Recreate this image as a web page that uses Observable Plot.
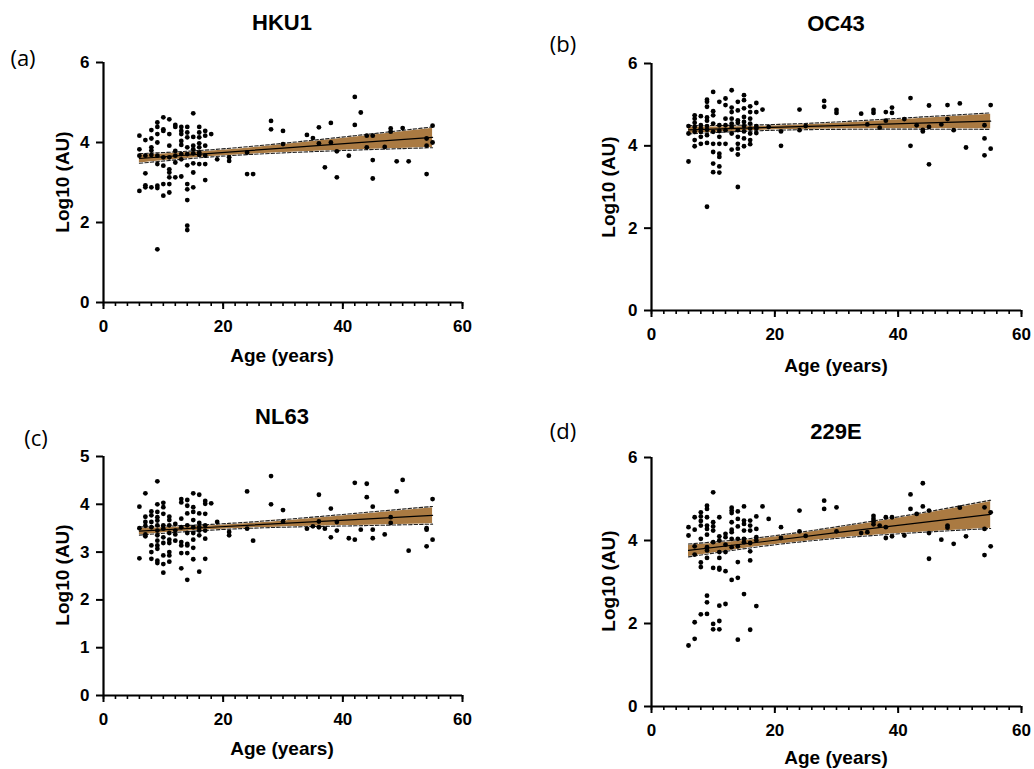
<!DOCTYPE html>
<html><head><meta charset="utf-8">
<script src="https://cdn.jsdelivr.net/npm/d3@7"></script>
<script src="https://cdn.jsdelivr.net/npm/@observablehq/plot@0.6"></script>
<style>
body{margin:0;background:#fff;}
#root{position:relative;width:1034px;height:769px;overflow:hidden;font-family:"Liberation Sans",Arial,sans-serif;background:#fff;}
.t{position:absolute;white-space:nowrap;transform:translate(-50%,-50%);color:#000;line-height:1;}
.title{font-weight:bold;font-size:22px;}
.plab{font-family:"Open Sans","Liberation Sans",sans-serif;font-size:22px;}
.xl{font-weight:bold;font-size:19px;}
.yl{font-weight:bold;font-size:19px;transform:translate(-50%,-50%) rotate(-90deg);}
.panel{position:absolute;}
.panel svg text{font-family:"Liberation Sans",Arial,sans-serif !important;font-weight:bold !important;font-size:17px !important;fill:#000;}
</style></head><body><div id="root"></div>
<script>
// ---- data: [age (years), log10 (AU)] ----
const hku1 = [[6,4.17],[6,3.83],[6,3.67],[6,2.79],
[7,4.06],[7,3.67],[7,3.23],[7,2.93],[7,2.88],
[8,4.31],[8,4.1],[8,3.88],[8,3.8],[8,3.69],[8,2.88],
[9,4.5],[9,4.39],[9,4.21],[9,4.0],[9,3.67],[9,3.46],[9,2.92],[9,2.86],[9,1.33],
[10,4.63],[10,4.33],[10,4.29],[10,3.63],[10,3.42],[10,2.96],[10,2.67],
[11,4.58],[11,4.21],[11,3.92],[11,3.63],[11,3.33],[11,3.25],[11,3.13],[11,2.96],[11,2.75],
[12,4.44],[12,4.39],[12,3.79],[12,3.67],[12,3.5],[12,3.13],
[13,4.39],[13,4.29],[13,4.21],[13,4.04],[13,3.94],[13,3.71],[13,3.58],[13,3.15],
[14,4.39],[14,4.25],[14,4.13],[14,3.88],[14,3.71],[14,3.43],[14,2.96],[14,2.83],[14,2.56],[14,1.92],[14,1.81],
[15,4.73],[15,4.14],[15,3.92],[15,3.83],[15,3.73],[15,3.48],[15,3.25],[15,2.88],
[16,4.39],[16,4.25],[16,4.13],[16,3.98],[16,3.88],[16,3.75],[16,3.69],[16,3.46],
[17,4.29],[17,4.17],[17,3.92],[17,3.67],[17,3.46],[17,3.06],
[18,4.21],[19,3.58],[21,3.63],[21,3.54],[24,3.75],[24,3.21],[25,3.21],[28,4.54],[28,4.33],[30,4.29],[30,3.96],
[34,4.19],[35,4.11],[36,4.38],[36,3.98],[37,3.38],[38,4.49],[38,4.0],[39,3.78],[39,3.13],[41,3.67],[42,5.14],[42,4.44],
[43,4.75],[44,4.17],[44,3.88],[45,4.17],[45,3.56],[45,3.1],[47,3.89],[48,4.35],[48,4.27],[49,3.53],[50,4.36],[51,3.53],
[54,4.1],[54,3.92],[54,3.21],[55,4.42],[55,4.0]];

const oc43 = [[6,4.48],[6,4.3],[6,3.62],
[7,4.74],[7,4.66],[7,4.56],[7,4.46],[7,4.34],[7,4.14],[7,3.99],
[8,4.72],[8,4.5],[8,4.42],[8,4.34],[8,4.22],[8,4.05],
[9,5.12],[9,5.07],[9,4.95],[9,4.69],[9,4.61],[9,4.48],[9,4.39],[9,4.26],[9,4.07],[9,2.52],
[10,5.31],[10,4.84],[10,4.74],[10,4.54],[10,4.34],[10,4.05],[10,3.85],[10,3.57],[10,3.36],
[11,5.07],[11,4.5],[11,4.36],[11,4.22],[11,4.05],[11,3.81],[11,3.73],[11,3.5],[11,3.35],
[12,5.15],[12,4.99],[12,4.66],[12,4.5],[12,4.38],[12,4.05],
[13,5.35],[13,4.93],[13,4.82],[13,4.66],[13,4.54],[13,4.46],[13,4.3],[13,3.91],
[14,5.07],[14,4.86],[14,4.62],[14,4.56],[14,4.38],[14,4.22],[14,4.05],[14,3.93],[14,3.79],[14,3.0],
[15,5.23],[15,5.11],[15,4.91],[15,4.7],[15,4.58],[15,4.48],[15,4.35],[15,4.18],[15,3.99],
[16,4.96],[16,4.82],[16,4.66],[16,4.54],[16,4.42],[16,4.3],[16,4.14],[16,4.04],
[17,5.04],[17,4.82],[17,4.48],[17,4.42],[17,4.31],
[18,4.88],[19,4.46],[21,4.35],[21,4.0],[24,4.88],[24,4.38],[25,4.48],[28,5.09],[28,4.95],[30,4.87],[30,4.8],
[34,4.78],[35,4.52],[36,4.87],[36,4.8],[37,4.44],[38,4.82],[38,4.61],[39,4.93],[39,4.8],[41,4.65],[42,5.16],[42,4.0],
[43,4.5],[44,4.39],[44,4.35],[45,4.98],[45,4.46],[45,3.55],[47,4.52],[48,4.99],[48,4.65],[49,4.38],[50,5.03],[51,3.96],
[54,4.5],[54,4.18],[54,3.77],[55,4.99],[55,3.93]];

const nl63 = [[6,3.95],[6,3.5],[6,2.87],
[7,4.23],[7,3.74],[7,3.63],[7,3.55],[7,3.37],[7,3.33],
[8,3.85],[8,3.77],[8,3.63],[8,3.52],[8,3.14],[8,3.0],[8,2.86],
[9,4.48],[9,4.0],[9,3.84],[9,3.73],[9,3.66],[9,3.56],[9,3.45],[9,3.35],[9,3.24],[9,3.14],[9,3.07],[9,2.82],[9,2.77],
[10,4.03],[10,3.94],[10,3.8],[10,3.56],[10,3.49],[10,3.31],[10,3.19],[10,2.93],[10,2.75],[10,2.57],
[11,3.74],[11,3.67],[11,3.56],[11,3.4],[11,3.26],[11,3.19],[11,3.0],[11,2.93],[11,2.8],
[12,3.59],[12,3.45],[12,3.37],[12,3.24],
[13,4.11],[13,4.04],[13,3.7],[13,3.52],[13,3.21],[13,3.14],[13,2.98],[13,2.66],
[14,4.09],[14,3.97],[14,3.81],[14,3.56],[14,3.4],[14,3.17],[14,3.14],[14,2.98],[14,2.42],
[15,4.23],[15,3.94],[15,3.84],[15,3.67],[15,3.52],[15,3.4],[15,3.26],[15,3.09],[15,2.85],
[16,4.2],[16,3.81],[16,3.61],[16,3.52],[16,3.45],[16,3.35],[16,2.59],
[17,4.07],[17,4.01],[17,3.8],[17,3.56],[17,3.45],[17,3.28],[17,2.86],
[18,4.02],[19,3.63],[21,3.42],[21,3.35],[24,4.27],[24,3.49],[25,3.24],[28,4.59],[28,4.0],[30,3.88],[30,3.64],
[34,3.49],[35,3.54],[36,4.2],[36,3.64],[36,3.52],[37,3.49],[38,3.91],[38,3.31],[39,3.63],[39,3.45],[41,3.29],
[42,4.45],[42,3.26],[43,3.47],[44,4.43],[44,4.15],[45,3.95],[45,3.47],[45,3.29],[47,3.37],[48,3.73],[48,3.61],
[49,4.27],[50,4.51],[51,3.03],[54,3.5],[54,3.47],[54,3.12],[55,4.11],[55,3.26]];

const e229 = [[6,4.32],[6,4.12],[6,1.47],
[7,4.56],[7,4.26],[7,3.86],[7,3.66],[7,2.03],[7,1.63],
[8,4.68],[8,4.58],[8,4.47],[8,4.36],[8,4.04],[8,3.47],[8,3.36],[8,2.22],
[9,4.84],[9,4.76],[9,4.56],[9,4.36],[9,4.28],[9,4.14],[9,3.84],[9,3.76],[9,3.58],[9,2.67],[9,2.51],[9,2.23],
[10,5.16],[10,4.44],[10,4.34],[10,4.24],[10,3.96],[10,3.34],[10,1.99],[10,1.86],
[11,4.56],[11,4.1],[11,4.0],[11,3.72],[11,3.58],[11,3.34],[11,3.3],[11,2.43],[11,2.06],[11,1.86],
[12,4.16],[12,4.08],[12,3.9],[12,3.72],[12,3.26],[12,2.47],
[13,4.79],[13,4.72],[13,4.66],[13,4.44],[13,4.26],[13,4.2],[13,4.04],[13,3.84],[13,3.05],
[14,4.7],[14,4.52],[14,4.34],[14,4.04],[14,3.86],[14,3.48],[14,3.1],[14,1.61],
[15,4.82],[15,4.48],[15,4.4],[15,4.24],[15,4.04],[15,3.96],[15,2.71],
[16,4.48],[16,4.36],[16,4.24],[16,3.94],[16,3.74],[16,3.52],[16,1.85],
[17,4.58],[17,4.28],[17,4.08],[17,4.0],[17,2.42],
[18,4.82],[19,4.52],[21,4.32],[21,4.06],[24,4.72],[24,4.22],[25,4.11],[28,4.96],[28,4.76],[30,4.8],[30,4.22],
[34,4.18],[35,4.2],[36,4.59],[36,4.52],[36,4.46],[36,4.39],[37,4.36],[38,4.56],[38,4.32],[38,4.06],[39,4.56],[39,4.1],
[41,4.12],[42,5.11],[42,4.76],[43,4.64],[44,5.38],[44,4.82],[45,4.72],[45,4.18],[45,3.56],[47,4.02],[48,4.36],[48,4.31],
[49,3.92],[50,4.79],[51,4.1],[54,4.8],[54,4.28],[54,3.65],[55,4.68],[55,3.86]];

// regression fit and 95% band, read at these ages
const fitAges = [6, 18, 30, 42, 55];
const hku1Mid = [3.60, 3.73, 3.86, 3.99, 4.13];
const hku1Lo  = [3.48, 3.64, 3.74, 3.81, 3.87];
const hku1Hi  = [3.72, 3.82, 3.98, 4.17, 4.39];
const oc43Mid = [4.39, 4.44, 4.49, 4.545, 4.60];
const oc43Lo  = [4.29, 4.37, 4.40, 4.405, 4.40];
const oc43Hi  = [4.49, 4.51, 4.58, 4.685, 4.80];
const nl63Mid = [3.44, 3.52, 3.60, 3.68, 3.77];
const nl63Lo  = [3.355, 3.46, 3.52, 3.55, 3.585];
const nl63Hi  = [3.525, 3.58, 3.68, 3.81, 3.955];
const e229Mid = [3.76, 3.97, 4.19, 4.40, 4.63];
const e229Lo  = [3.605, 3.86, 4.05, 4.18, 4.29];
const e229Hi  = [3.915, 4.08, 4.33, 4.62, 4.97];

const titles = ["HKU1", "OC43", "NL63", "229E"];
const tags = ["(a)", "(b)", "(c)", "(d)"];
const xMajorTicks = [0, 20, 40, 60];
const xMinorTicks = [0,2,4,6,8,10,12,14,16,18,20,22,24,26,28,30,32,34,36,38,40,42,44,46,48,50,52,54,56,58,60];
const yTicks6 = [0, 2, 4, 6];
const yTicks5 = [0, 1, 2, 3, 4, 5];
const xLabel = "Age (years)";
const yLabel = "Log10 (AU)";

const BAND = "#aa7a42";

const fitTable = (mid, lo, hi) => fitAges.map((a, i) => ({age: a, mid: mid[i], lo: lo[i], hi: hi[i]}));

const panels = [
  {data: hku1, fit: fitTable(hku1Mid, hku1Lo, hku1Hi), yMax: 6, yTicks: yTicks6,
   left: 0, top: 0, w: 517, h: 340, ml: 103, mr: 55, mt: 62, mb: 38,
   title: [282, 23], tag: [23, 57], yl: [62, 182], xl: [282, 355]},
  {data: oc43, fit: fitTable(oc43Mid, oc43Lo, oc43Hi), yMax: 6, yTicks: yTicks6,
   left: 517, top: 0, w: 517, h: 350, ml: 134, mr: 13, mt: 63, mb: 40,
   title: [836, 24], tag: [563, 43], yl: [608, 187], xl: [836, 365]},
  {data: nl63, fit: fitTable(nl63Mid, nl63Lo, nl63Hi), yMax: 5, yTicks: yTicks5,
   left: 0, top: 380, w: 517, h: 350, ml: 103, mr: 55, mt: 76, mb: 35,
   title: [282, 417], tag: [36, 437], yl: [62, 575], xl: [282, 748]},
  {data: e229, fit: fitTable(e229Mid, e229Lo, e229Hi), yMax: 6, yTicks: yTicks6,
   left: 517, top: 380, w: 517, h: 389, ml: 134, mr: 13, mt: 77, mb: 63,
   title: [836, 432], tag: [563, 430], yl: [608, 581], xl: [836, 757]}
];

const root = document.getElementById("root");
function addText(cls, txt, xy) {
  const d = document.createElement("div");
  d.className = "t " + cls;
  d.textContent = txt;
  d.style.left = xy[0] + "px";
  d.style.top = xy[1] + "px";
  root.appendChild(d);
}

panels.forEach((p, i) => {
  const chart = Plot.plot({
    width: p.w, height: p.h,
    marginLeft: p.ml, marginRight: p.mr, marginTop: p.mt, marginBottom: p.mb,
    x: {domain: [0, 60]},
    y: {domain: [0, p.yMax]},
    style: {fontFamily: "'Liberation Sans', Arial, sans-serif", fontSize: "17px", fontWeight: "bold", color: "#000", background: "transparent", overflow: "visible"},
    marks: [
      Plot.areaY(p.fit, {x: "age", y1: "lo", y2: "hi", fill: BAND, curve: "natural"}),
      Plot.lineY(p.fit, {x: "age", y: "lo", stroke: "#fff", strokeWidth: 1.6, curve: "natural"}),
      Plot.lineY(p.fit, {x: "age", y: "hi", stroke: "#fff", strokeWidth: 1.6, curve: "natural"}),
      Plot.lineY(p.fit, {x: "age", y: "lo", stroke: "#222", strokeWidth: 1.1, strokeDasharray: "3.5,2", curve: "natural"}),
      Plot.lineY(p.fit, {x: "age", y: "hi", stroke: "#222", strokeWidth: 1.1, strokeDasharray: "3.5,2", curve: "natural"}),
      Plot.dot(p.data, {x: d => d[0], y: d => d[1], r: 2.4, fill: "#000", stroke: "none"}),
      Plot.lineY(p.fit, {x: "age", y: "mid", stroke: "#000", strokeWidth: 1.2}),
      Plot.axisX({ticks: xMinorTicks, tickSize: 4, strokeWidth: 1.6, tickFormat: () => "", label: null}),
      Plot.axisX({ticks: xMajorTicks, tickSize: 7, tickPadding: 10, strokeWidth: 2, tickFormat: d => String(d), label: null}),
      Plot.axisY({ticks: p.yTicks, tickSize: 7, tickPadding: 7, strokeWidth: 2, tickFormat: d => String(d), label: null}),
      Plot.ruleX([0], {stroke: "#000", strokeWidth: 2.2}),
      Plot.ruleY([0], {stroke: "#000", strokeWidth: 2.2})
    ]
  });
  const holder = document.createElement("div");
  holder.className = "panel";
  holder.style.left = p.left + "px";
  holder.style.top = p.top + "px";
  holder.appendChild(chart);
  root.appendChild(holder);
  addText("title", titles[i], p.title);
  addText("plab", tags[i], p.tag);
  addText("yl", yLabel, p.yl);
  addText("xl", xLabel, p.xl);
});
</script>
</body></html>
